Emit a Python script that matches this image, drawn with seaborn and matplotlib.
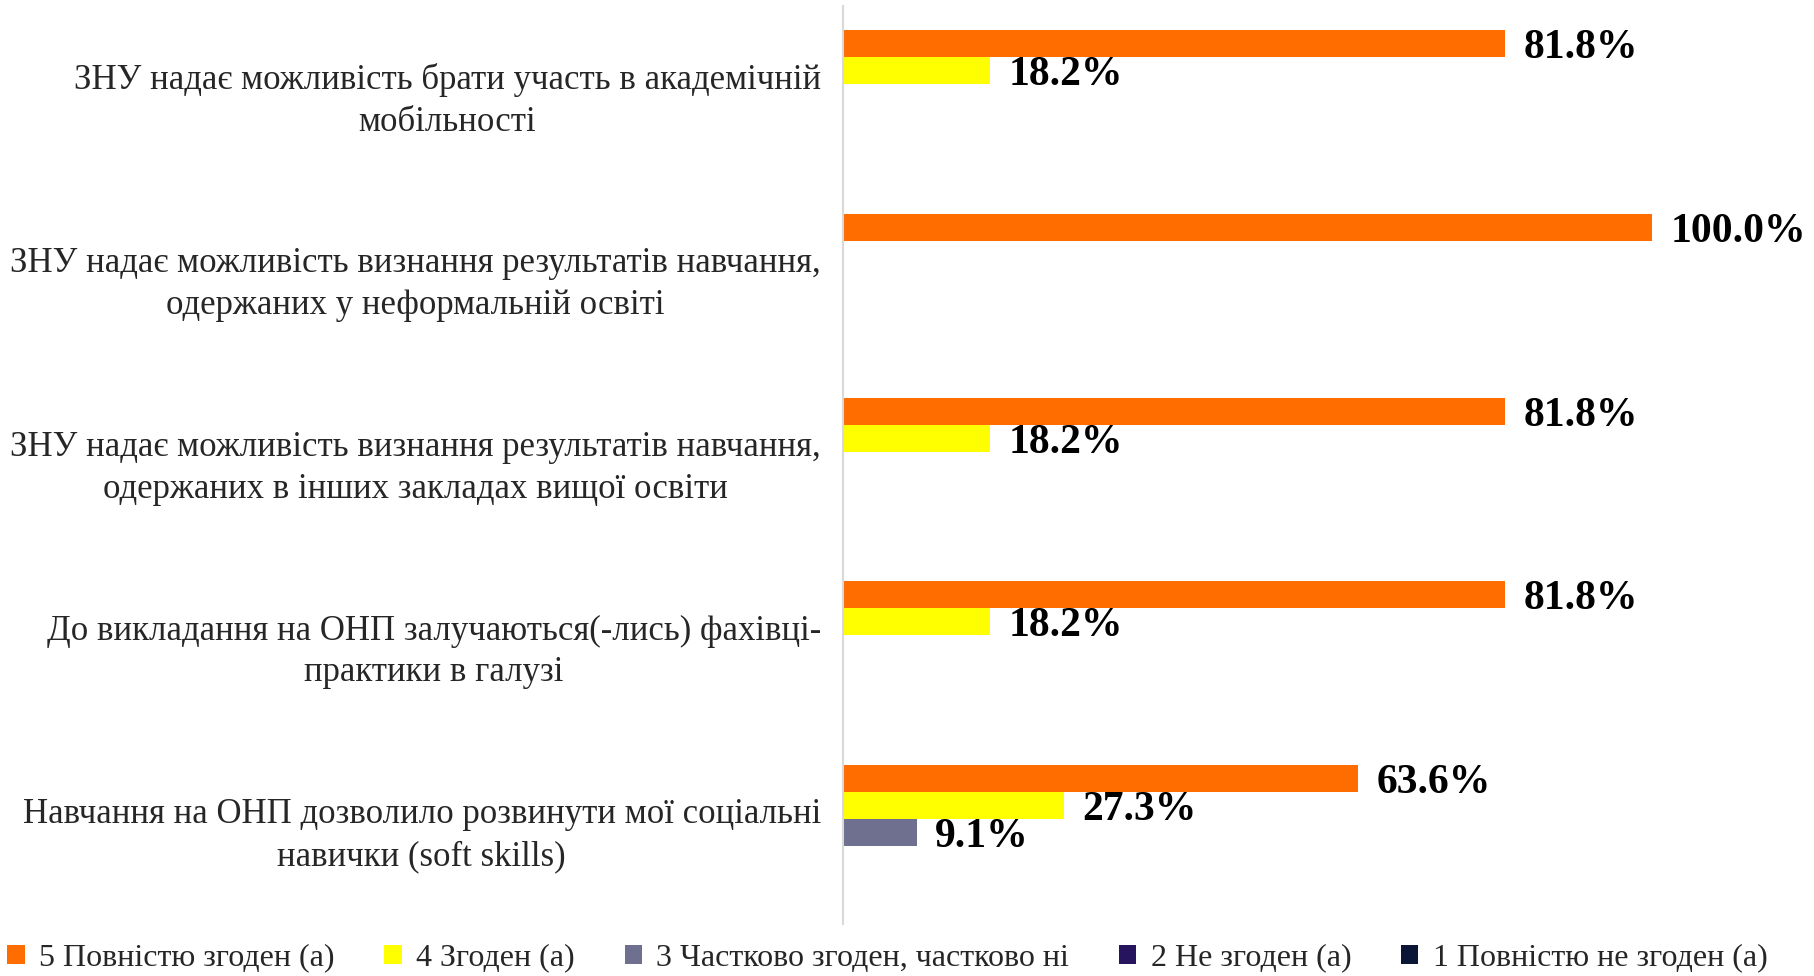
import matplotlib
matplotlib.use("Agg")
import matplotlib.pyplot as plt
import matplotlib.transforms as mtransforms
import seaborn as sns
import pandas as pd
from matplotlib.patches import Patch

categories = [
    "ЗНУ надає можливість брати участь в академічній\nмобільності",
    "ЗНУ надає можливість визнання результатів навчання,\nодержаних у неформальній освіті",
    "ЗНУ надає можливість визнання результатів навчання,\nодержаних в інших закладах вищої освіти",
    "До викладання на ОНП залучаються(-лись) фахівці-\nпрактики в галузі",
    "Навчання на ОНП дозволило розвинути мої соціальні\nнавички (soft skills)",
]
series = [
    "5 Повністю згоден (а)",
    "4 Згоден (а)",
    "3 Частково згоден, частково ні",
    "2 Не згоден (а)",
    "1 Повністю не згоден (а)",
]
s5 = [81.8, 100.0, 81.8, 81.8, 63.6]
s4 = [18.2, 0.0, 18.2, 18.2, 27.3]
s3 = [0.0, 0.0, 0.0, 0.0, 9.1]
s2 = [0.0, 0.0, 0.0, 0.0, 0.0]
s1 = [0.0, 0.0, 0.0, 0.0, 0.0]
colors = ["#FF6C00", "#FFFF00", "#6F7090", "#26145E", "#0B1535"]

values = [s5, s4, s3, s2, s1]
rows = []
for sname, vals in zip(series, values):
    for c, v in zip(categories, vals):
        rows.append({"cat": c, "series": sname, "val": v})
df = pd.DataFrame(rows)

sns.set_style("white")
plt.rcParams["font.family"] = ["Liberation Serif", "DejaVu Serif"]

fig = plt.figure(figsize=(18.15, 9.76), dpi=100)
ax = fig.add_axes([843 / 1815, 1 - 924 / 976, (1810 - 843) / 1815, (924 - 6) / 976])

sns.barplot(data=df, y="cat", x="val", hue="series", order=categories,
            hue_order=series, palette=colors, orient="h", width=0.735,
            saturation=1, ax=ax, legend=False, linewidth=0)

ax.set_xlim(0, 119.5)
ax.set_ylim(4.5, -0.5)
ax.set_xlabel("")
ax.set_ylabel("")
ax.set_xticks([])
ax.tick_params(axis="y", length=0, pad=16, labelsize=25)
offset = mtransforms.ScaledTranslation(0, 0.05, fig.dpi_scale_trans)
for lbl in ax.get_yticklabels():
    lbl.set_horizontalalignment("right")
    lbl.set_multialignment("center")
    lbl.set_linespacing(1.35)
    lbl.set_transform(lbl.get_transform() + offset)

for sp in ["top", "right", "bottom"]:
    ax.spines[sp].set_visible(False)
ax.spines["left"].set_color("#D9D9D9")
ax.spines["left"].set_linewidth(1.5)

for cont in ax.containers:
    for bar in cont:
        w = bar.get_width()
        if w > 0:
            ax.text(w + 2.3, bar.get_y() + bar.get_height() / 2, f"{w:.1f}%",
                    ha="left", va="center_baseline", fontsize=30, fontweight="bold",
                    color="black")

handles = [Patch(facecolor=c, edgecolor="none") for c in colors]
fig.legend(handles, series, loc="center", bbox_to_anchor=(0.489, 1 - 958 / 976),
           ncol=5, frameon=False, fontsize=23, handlelength=0.55, handleheight=0.55,
           handletextpad=0.45, columnspacing=1.55, borderpad=0, borderaxespad=0)

fig.savefig("out.png", dpi=100)
